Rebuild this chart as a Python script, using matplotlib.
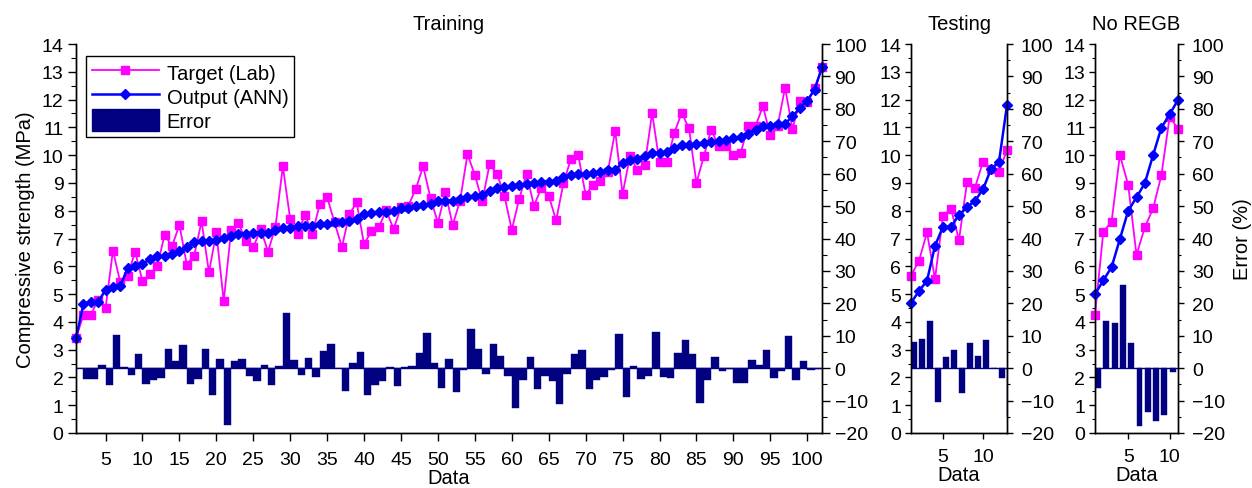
import numpy as np
import matplotlib
matplotlib.use("Agg")
import matplotlib.pyplot as plt
from matplotlib.ticker import MultipleLocator
from matplotlib.patches import Patch
from matplotlib.lines import Line2D

plt.rcParams['font.family'] = ['Liberation Sans', 'DejaVu Sans']
plt.rcParams['font.size'] = 14

# Training data (102 samples)
train_target = [
    3.41, 4.25, 4.25, 4.80, 4.49, 6.56, 5.42, 5.64, 6.53, 5.46,
    5.72, 6.00, 7.14, 6.72, 7.49, 6.06, 6.38, 7.62, 5.78, 7.22,
    4.74, 7.29, 7.56, 6.91, 6.68, 7.34, 6.53, 7.41, 9.60, 7.70,
    7.17, 7.86, 7.17, 8.23, 8.49, 7.58, 6.69, 7.87, 8.30, 6.79,
    7.27, 7.41, 8.01, 7.34, 8.12, 8.18, 8.78, 9.60, 8.45, 7.56,
    8.66, 7.49, 8.36, 10.03, 9.29, 8.34, 9.68, 9.32, 8.54, 7.31,
    8.42, 9.32, 8.18, 8.81, 8.54, 7.65, 9.00, 9.86, 10.00, 8.57,
    8.93, 9.07, 9.40, 10.88, 8.60, 9.96, 9.47, 9.64, 11.52, 9.74,
    9.74, 10.80, 11.52, 10.96, 9.00, 9.96, 10.92, 10.32, 10.34, 10.00,
    10.08, 11.06, 11.04, 11.76, 10.72, 11.06, 12.43, 10.94, 11.96, 11.92,
    12.40, 13.16]
train_output = [
    3.41, 4.63, 4.70, 4.70, 5.16, 5.27, 5.30, 5.93, 6.00, 6.08,
    6.26, 6.36, 6.38, 6.44, 6.56, 6.68, 6.86, 6.91, 6.91, 6.96,
    7.01, 7.10, 7.17, 7.17, 7.20, 7.20, 7.20, 7.29, 7.37, 7.39,
    7.44, 7.46, 7.46, 7.52, 7.52, 7.61, 7.61, 7.64, 7.70, 7.87,
    7.92, 7.94, 7.97, 8.00, 8.08, 8.08, 8.16, 8.21, 8.24, 8.35,
    8.36, 8.36, 8.42, 8.48, 8.52, 8.57, 8.70, 8.81, 8.85, 8.90,
    8.93, 8.95, 9.00, 9.05, 9.05, 9.06, 9.20, 9.30, 9.32, 9.33,
    9.36, 9.38, 9.45, 9.48, 9.72, 9.84, 9.86, 9.98, 10.08, 10.08,
    10.10, 10.24, 10.36, 10.36, 10.39, 10.44, 10.46, 10.51, 10.56, 10.60,
    10.64, 10.75, 10.89, 11.04, 11.06, 11.13, 11.13, 11.40, 11.69, 11.96,
    12.36, 13.16]
train_error = [
    0.0, -3.2, -3.3, 1.0, -5.3, 10.3, 0.5, -2.0, 4.3, -4.8,
    -3.8, -3.1, 6.0, 2.3, 7.2, -4.9, -3.3, 6.0, -8.4, 2.7,
    -17.5, 2.1, 2.9, -2.3, -4.1, 1.0, -5.3, 0.8, 17.1, 2.4,
    -2.1, 3.1, -2.8, 5.4, 7.4, 0.0, -7.0, 1.6, 4.9, -8.2,
    -5.1, -4.1, 0.5, -5.6, 0.3, 0.8, 4.7, 10.9, 1.6, -6.2,
    2.7, -7.2, -0.7, 12.1, 6.0, -1.7, 7.5, 3.7, -2.5, -12.3,
    -3.8, 3.3, -6.4, -2.3, -4.1, -11.0, -1.7, 4.3, 5.6, -6.4,
    -3.5, -2.7, -0.6, 10.6, -8.8, 0.8, -3.3, -2.5, 11.3, -2.8,
    -3.1, 4.7, 8.8, 4.5, -10.7, -3.8, 3.4, -1.0, -0.3, -4.5,
    -4.5, 2.4, 1.0, 5.6, -3.1, -0.9, 9.9, -3.8, 2.3, -0.5,
    -0.2, 0.0]

# Testing data (13 samples)
test_target = [5.66, 6.20, 7.22, 5.54, 7.82, 8.06, 6.95, 9.02, 8.83, 9.77, 9.50, 9.41, 10.18]
test_output = [4.68, 5.11, 5.48, 6.74, 7.42, 7.42, 7.85, 8.12, 8.36, 8.77, 9.50, 9.76, 11.80]
test_error = [8.2, 9.1, 14.5, -10.3, 3.4, 5.7, -7.7, 7.7, 3.9, 8.8, 0.0, -3.1, -15.0]

# No REGB data (11 samples)
noregb_target = [4.26, 7.24, 7.61, 10.00, 8.93, 6.41, 7.40, 8.08, 9.28, 11.39, 10.94]
noregb_output = [5.00, 5.49, 5.97, 6.98, 8.00, 8.48, 8.99, 10.00, 10.99, 11.47, 11.99]
noregb_error = [-6.2, 14.6, 14.0, 25.6, 7.9, -17.7, -13.5, -16.4, -14.6, -1.2, 0.0]

MAGENTA = '#ff00ff'
BLUE = '#0000ff'
NAVY = '#000080'
FS = 14.5

W, H = 1252, 489
fig = plt.figure(figsize=(W / 100, H / 100), dpi=100)


def panel(rect, target, output, error, bar_w, title, tlen, rpad, left_label=False, right_label=False):
    ax = fig.add_axes(rect)
    ax2 = ax.twinx()
    ax.set_zorder(ax2.get_zorder() + 1)
    ax.patch.set_visible(False)

    x = np.arange(1, len(target) + 1)
    ax2.bar(x, error, width=bar_w, align='edge', color=NAVY, edgecolor=NAVY, linewidth=0.3)
    ax2.axhline(0, color=NAVY, lw=1.0)
    ax.plot(x, target, '-s', color=MAGENTA, lw=1.3, ms=5.5, clip_on=False)
    ax.plot(x, output, '-D', color=BLUE, lw=1.8, ms=5, clip_on=False)

    ax.set_xlim(1, len(target))
    ax.set_ylim(0, 14)
    ax2.set_ylim(-20, 100)
    ax.yaxis.set_major_locator(MultipleLocator(1))
    ax.yaxis.set_minor_locator(MultipleLocator(0.5))
    ax2.yaxis.set_major_locator(MultipleLocator(10))
    ax2.yaxis.set_minor_locator(MultipleLocator(5))
    ax.set_xticks([t for t in range(5, len(target) + 1, 5)])

    for a in (ax, ax2):
        a.spines['top'].set_visible(False)
        for s in a.spines.values():
            s.set_linewidth(1.0)
    ax.tick_params(axis='y', which='major', length=tlen, width=1, pad=3)
    ax.tick_params(axis='y', which='minor', length=tlen * 0.6, width=0.8)
    ax2.tick_params(axis='y', which='major', length=tlen, width=1, pad=rpad)
    ax2.tick_params(axis='y', which='minor', length=tlen * 0.6, width=0.8)
    ax.tick_params(axis='x', which='major', length=tlen, width=1, pad=7)

    ax.set_title(title, fontsize=FS, pad=11)
    ax.set_xlabel('Data', fontsize=FS, labelpad=0)
    if left_label:
        ax.set_ylabel('Compressive strength (MPa)', fontsize=FS, labelpad=5)
    if right_label:
        ax2.set_ylabel('Error (%)', fontsize=FS, labelpad=6)
    return ax, ax2


bottom = 1 - 434 / H
height = (434 - 45) / H
ax_tr, _ = panel([76 / W, bottom, (822 - 76) / W, height],
                 train_target, train_output, train_error, 1.0, 'Training', 6, 3, left_label=True)
panel([911 / W, bottom, (1007 - 911) / W, height],
      test_target, test_output, test_error, 0.72, 'Testing', 4, 6)
panel([1095 / W, bottom, (1178 - 1095) / W, height],
      noregb_target, noregb_output, noregb_error, 0.72, 'No REGB', 4, 6, right_label=True)

handles = [
    Line2D([], [], color=MAGENTA, marker='s', lw=1.3, ms=5.5),
    Line2D([], [], color=BLUE, marker='D', lw=1.8, ms=5),
    Patch(facecolor=NAVY, edgecolor=NAVY),
]
leg = ax_tr.legend(handles, ['Target (Lab)', 'Output (ANN)', 'Error'], loc='upper left',
                   bbox_to_anchor=(0.0135, 0.97), fontsize=FS, numpoints=1, handlelength=3.3,
                   handleheight=1.25, handletextpad=0.4, labelspacing=0.12, borderpad=0.3,
                   borderaxespad=0, fancybox=False, framealpha=1, edgecolor='black')
leg.get_frame().set_linewidth(1.0)

fig.savefig('out.png', dpi=100)
